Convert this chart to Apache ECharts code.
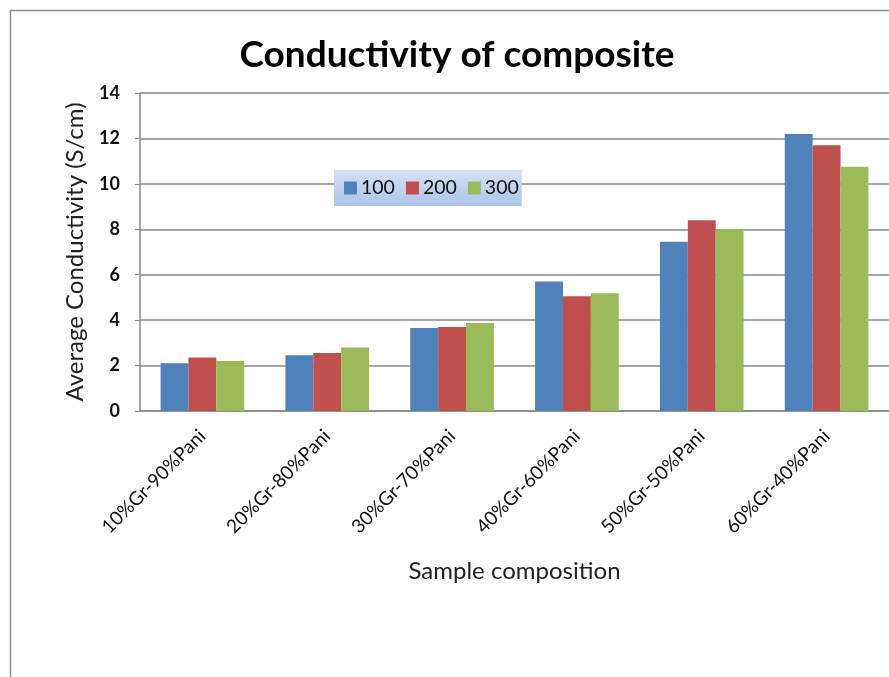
<!DOCTYPE html>
<html>
<head>
<meta charset="utf-8">
<script src="https://cdn.jsdelivr.net/npm/echarts@6/dist/echarts.min.js"></script>
<style>
  html, body { margin: 0; padding: 0; background: #fff; }
  #chart { width: 889px; height: 677px; }
</style>
</head>
<body>
<div id="chart"></div>
<script>
// Sample compositions (graphene / polyaniline ratio)
const categories = ['10%Gr-90%Pani', '20%Gr-80%Pani', '30%Gr-70%Pani', '40%Gr-60%Pani', '50%Gr-50%Pani', '60%Gr-40%Pani'];
// Series names
const seriesNames = ['100', '200', '300'];
// Average conductivity (S/cm) per series
const values100 = [2.1, 2.45, 3.65, 5.7, 7.45, 12.2];
const values200 = [2.35, 2.55, 3.7, 5.05, 8.4, 11.7];
const values300 = [2.2, 2.8, 3.87, 5.18, 8.0, 10.75];
// Value axis ticks
const yTicks = [0, 2, 4, 6, 8, 10, 12, 14];

const colors = ['#4F81BD', '#C0504D', '#9BBB59'];
const seriesValues = [values100, values200, values300];

const chart = echarts.init(document.getElementById('chart'));
chart.setOption({
  animation: false,
  textStyle: { fontFamily: 'Lato' },
  graphic: [{
    type: 'rect',
    shape: { x: 10.5, y: 10.5, width: 900, height: 700 },
    style: { fill: 'none', stroke: '#8c8c8c', lineWidth: 1.5 },
    silent: true,
    z: 0
  }],
  title: {
    text: 'Conductivity of composite',
    left: 452,
    top: 32,
    textAlign: 'center',
    textStyle: { fontFamily: 'Lato', fontWeight: 'bold', fontSize: 37, color: '#000' }
  },
  legend: {
    data: seriesNames,
    left: 334,
    top: 170,
    orient: 'horizontal',
    itemWidth: 13,
    itemHeight: 13,
    itemGap: 11,
    padding: [8, 3, 8, 10],
    icon: 'rect',
    backgroundColor: new echarts.graphic.LinearGradient(0, 0, 0, 1, [
      { offset: 0, color: '#d6e2f5' },
      { offset: 1, color: '#abc3ea' }
    ]),
    textStyle: { fontFamily: 'Lato', fontSize: 19.5, color: '#111', padding: [0, 0, 0, -1] }
  },
  grid: { left: 140, top: 93, width: 756, height: 318, containLabel: false },
  xAxis: {
    type: 'category',
    data: categories,
    name: 'Sample composition',
    nameLocation: 'middle',
    nameGap: 148,
    nameTextStyle: { fontFamily: 'Lato', fontSize: 24, color: '#222' },
    axisLine: { lineStyle: { color: '#8a8a8a', width: 1.5 } },
    axisTick: { show: false },
    axisLabel: { rotate: 45, interval: 0, margin: 22, fontFamily: 'Lato', fontSize: 19, color: '#111' }
  },
  yAxis: {
    type: 'value',
    min: yTicks[0],
    max: yTicks[yTicks.length - 1],
    interval: 2,
    name: 'Average Conductivity (S/cm)',
    nameLocation: 'middle',
    nameGap: 53,
    nameTextStyle: { fontFamily: 'Lato', fontSize: 24, color: '#222' },
    axisLine: { show: true, lineStyle: { color: '#8a8a8a', width: 1.5 } },
    axisTick: { show: true, length: 5, lineStyle: { color: '#8a8a8a' } },
    splitLine: { lineStyle: { color: '#8a8a8a', width: 1.5 } },
    axisLabel: { margin: 20, fontFamily: 'Lato', fontWeight: 'bold', fontSize: 18, color: '#111' }
  },
  series: seriesNames.map((name, i) => ({
    name: name,
    type: 'bar',
    data: seriesValues[i],
    barGap: '0%',
    barCategoryGap: '33%',
    itemStyle: { color: colors[i] }
  }))
});
</script>
</body>
</html>
